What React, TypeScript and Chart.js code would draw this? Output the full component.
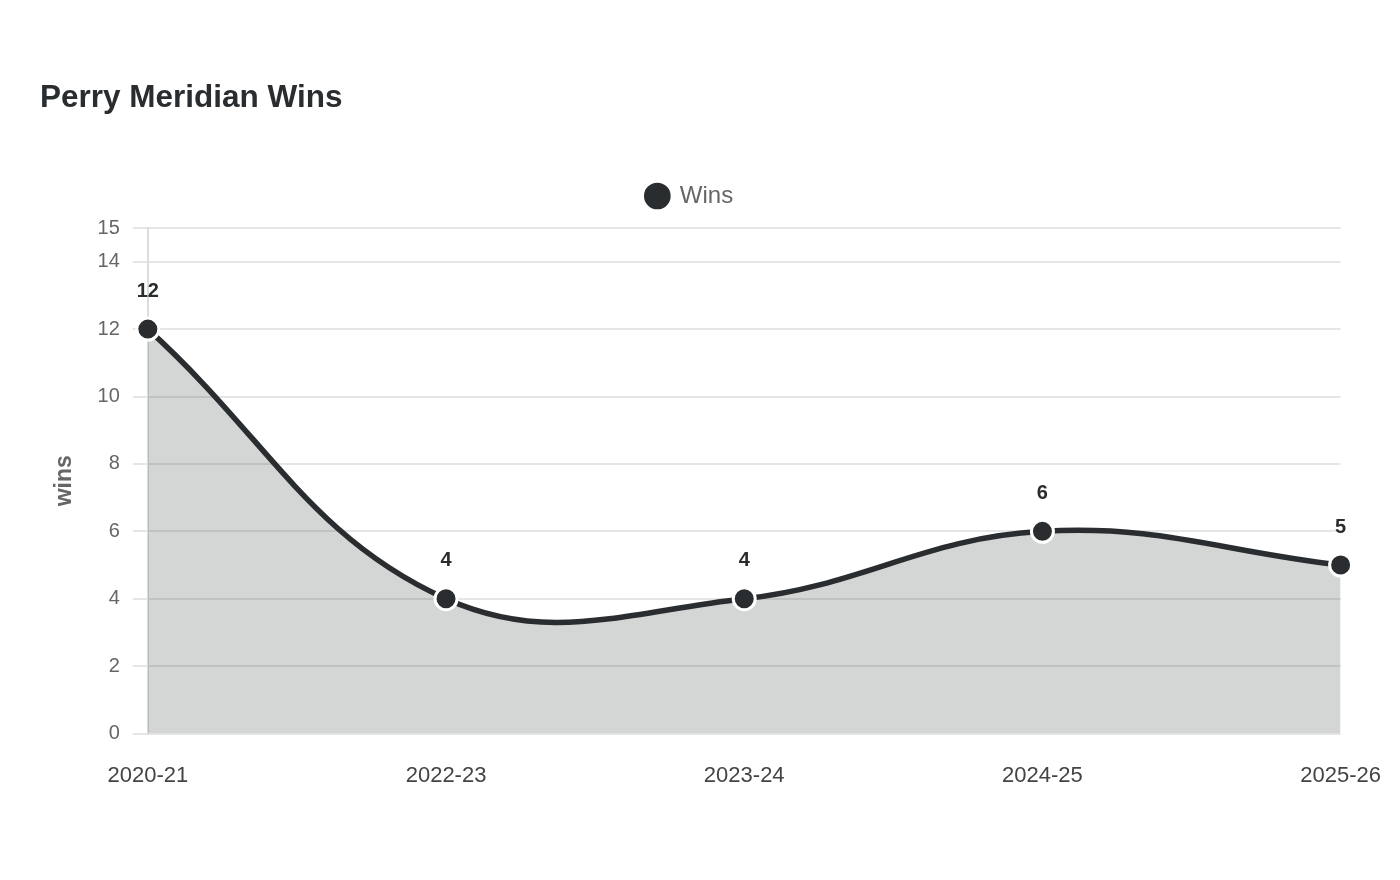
import React, { useEffect, useRef } from "react";
import { Chart, registerables } from "chart.js";

Chart.register(...registerables);

const titleText = "Perry Meridian Wins";
const seasons = ["2020-21", "2022-23", "2023-24", "2024-25", "2025-26"];
const wins = [12, 4, 4, 6, 5];
const yTicks = [0, 2, 4, 6, 8, 10, 12, 14, 15];

const DARK = "#2a2d2f";
const FONT = "'Liberation Sans', Arial, Helvetica, sans-serif";
const SHIFT = 12; // canvas extends this far left of the viewport

const valueLabels = {
  id: "valueLabels",
  afterDatasetsDraw(chart: any) {
    const ctx = chart.ctx;
    const meta = chart.getDatasetMeta(0);
    const data = chart.data.datasets[0].data as number[];
    ctx.save();
    ctx.font = `bold 20px ${FONT}`;
    ctx.fillStyle = DARK;
    ctx.textAlign = "center";
    ctx.textBaseline = "middle";
    meta.data.forEach((pt: any, i: number) => {
      ctx.fillText(String(data[i]), pt.x, pt.y - 38);
    });
    ctx.restore();
  },
};

const headTitle = {
  id: "headTitle",
  afterDraw(chart: any) {
    const ctx = chart.ctx;
    ctx.save();
    ctx.font = `bold 31.5px ${FONT}`;
    ctx.fillStyle = DARK;
    ctx.textAlign = "left";
    ctx.textBaseline = "alphabetic";
    ctx.fillText(titleText, 40 + SHIFT, 107);
    ctx.restore();
  },
};

const legendGap = {
  id: "legendGap",
  beforeInit(chart: any) {
    const legend = chart.legend;
    if (!legend) return;
    const origFit = legend.fit;
    legend.fit = function () {
      origFit.call(this);
      this.height += 10;
    };
  },
};

export default function App() {
  const ref = useRef<HTMLCanvasElement>(null);
  useEffect(() => {
    if (!ref.current) return;
    const chart = new Chart(ref.current, {
      type: "line",
      data: {
        labels: seasons,
        datasets: [
          {
            label: "Wins",
            data: wins,
            borderColor: DARK,
            backgroundColor: "rgba(42,45,47,0.2)",
            borderWidth: 5.5,
            fill: "origin",
            tension: 0.4,
            pointRadius: 11,
            pointHoverRadius: 11,
            pointBackgroundColor: DARK,
            pointBorderColor: "#ffffff",
            pointBorderWidth: 3,
          },
        ],
      },
      options: {
        animation: false,
        responsive: true,
        maintainAspectRatio: false,
        layout: { padding: { top: 159, left: 0, right: 10, bottom: 70 } },
        plugins: {
          title: { display: false },
          legend: {
            display: true,
            labels: {
              usePointStyle: true,
              pointStyle: "circle",
              boxWidth: 21,
              boxHeight: 21,
              color: "#666666",
              font: { family: FONT, size: 24 },
              padding: 25,
            },
          },
          tooltip: { enabled: false },
        },
        scales: {
          x: {
            grid: { display: false },
            border: { display: false },
            ticks: {
              color: "#444444",
              font: { family: FONT, size: 22 },
              padding: 21,
              maxRotation: 0,
            },
          },
          y: {
            min: 0,
            max: 15,
            afterBuildTicks: (axis: any) => {
              axis.ticks = yTicks.map((v) => ({ value: v }));
            },
            grid: { color: "#e6e6e6", lineWidth: 2, tickLength: 15 },
            border: { display: true, color: "#dddddd", width: 2 },
            ticks: {
              color: "#666666",
              font: { family: FONT, size: 20 },
              padding: 13,
            },
            title: {
              display: true,
              text: "wins",
              color: "#666666",
              font: { family: FONT, size: 23, weight: "bold" },
              padding: { top: 63, bottom: 6 },
            },
          },
        },
      },
      plugins: [valueLabels, headTitle, legendGap],
    });
    return () => chart.destroy();
  }, []);
  return (
    <div
      style={{
        position: "fixed",
        left: -SHIFT,
        top: 0,
        width: 1400 + SHIFT + 2,
        height: 880,
        background: "#fff",
      }}
    >
      <canvas ref={ref} />
    </div>
  );
}
